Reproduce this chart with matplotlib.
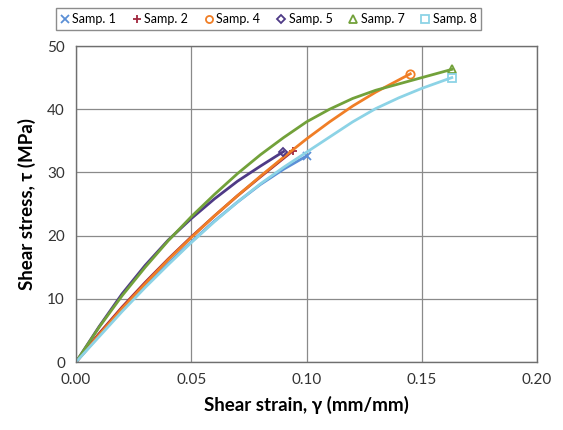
import matplotlib
matplotlib.use("Agg")
import matplotlib.pyplot as plt

plt.rcParams['font.family'] = ['Lato', 'DejaVu Sans']

# strain (mm/mm) and stress (MPa)
s1_x = [0, 0.01, 0.02, 0.03, 0.04, 0.05, 0.06, 0.07, 0.08, 0.09, 0.10]
s1_y = [0, 4.2, 8.2, 12.0, 15.6, 19.0, 22.3, 25.3, 28.1, 30.5, 32.6]

s2_x = [0, 0.01, 0.02, 0.03, 0.04, 0.05, 0.06, 0.07, 0.08, 0.094]
s2_y = [0, 4.5, 8.7, 12.6, 16.3, 19.8, 23.1, 26.3, 29.3, 33.4]

s4_x = [0, 0.01, 0.02, 0.03, 0.04, 0.05, 0.06, 0.07, 0.08, 0.09, 0.10, 0.11, 0.12, 0.13, 0.145]
s4_y = [0, 4.3, 8.5, 12.4, 16.2, 19.7, 23.1, 26.3, 29.4, 32.4, 35.3, 38.0, 40.5, 42.7, 45.6]

s5_x = [0, 0.01, 0.02, 0.03, 0.04, 0.05, 0.06, 0.07, 0.08, 0.09]
s5_y = [0, 5.6, 10.8, 15.3, 19.3, 22.7, 25.8, 28.6, 31.0, 33.3]

s7_x = [0, 0.01, 0.02, 0.03, 0.04, 0.05, 0.06, 0.07, 0.08, 0.09, 0.10, 0.11, 0.12, 0.13, 0.14, 0.15, 0.163]
s7_y = [0, 5.5, 10.5, 15.0, 19.2, 23.0, 26.5, 29.8, 32.8, 35.5, 38.0, 40.0, 41.7, 43.0, 44.0, 45.0, 46.3]

s8_x = [0, 0.01, 0.02, 0.03, 0.04, 0.05, 0.06, 0.07, 0.08, 0.09, 0.10, 0.11, 0.12, 0.13, 0.14, 0.15, 0.163]
s8_y = [0, 4.0, 8.0, 11.8, 15.4, 18.9, 22.2, 25.3, 28.2, 30.8, 33.2, 35.6, 38.0, 40.1, 41.8, 43.3, 45.0]

series = [
    ("Samp. 1", s1_x, s1_y, "#5B8FD6", "x"),
    ("Samp. 2", s2_x, s2_y, "#A0283E", "+"),
    ("Samp. 4", s4_x, s4_y, "#F07E26", "o"),
    ("Samp. 5", s5_x, s5_y, "#4E3A86", "D"),
    ("Samp. 7", s7_x, s7_y, "#72A13A", "^"),
    ("Samp. 8", s8_x, s8_y, "#8CD3E6", "s"),
]

fig = plt.figure(figsize=(5.63, 4.30), dpi=100)
ax = fig.add_axes([0.135, 0.158, 0.819, 0.735])

for label, x, y, color, marker in series:
    ax.plot(x, y, color=color, linewidth=2.0)
    ms = 4.5 if marker == "D" else 6
    ax.plot(x[-1:], y[-1:], linestyle="none", marker=marker, color=color,
            markersize=ms, mfc="none", markeredgewidth=1.3, label=label)

ax.set_xlim(0, 0.20)
ax.set_ylim(0, 50)
ax.set_xticks([0, 0.05, 0.10, 0.15, 0.20])
ax.set_xticklabels(["0.00", "0.05", "0.10", "0.15", "0.20"])
ax.set_yticks([0, 10, 20, 30, 40, 50])
ax.tick_params(length=0, labelsize=11, colors="#333333", pad=8)
ax.grid(True, color="#8a8a8a", linewidth=0.9)
ax.set_axisbelow(True)
for sp in ax.spines.values():
    sp.set_color("#6f6f6f")
    sp.set_linewidth(1.0)

ax.set_xlabel("Shear strain, γ (mm/mm)", fontsize=13.5, fontweight="bold", labelpad=6)
ax.set_ylabel("Shear stress, τ (MPa)", fontsize=13.5, fontweight="bold", labelpad=8)

leg = fig.legend(loc="upper center", bbox_to_anchor=(0.477, 0.995), ncol=6,
                 fontsize=9, frameon=True, fancybox=False, handlelength=0.7,
                 handletextpad=0.25, columnspacing=1.3, borderpad=0.4,
                 markerscale=0.85)
leg.get_frame().set_edgecolor("#6f6f6f")
leg.get_frame().set_linewidth(1.0)

fig.savefig("out.png", dpi=100)
